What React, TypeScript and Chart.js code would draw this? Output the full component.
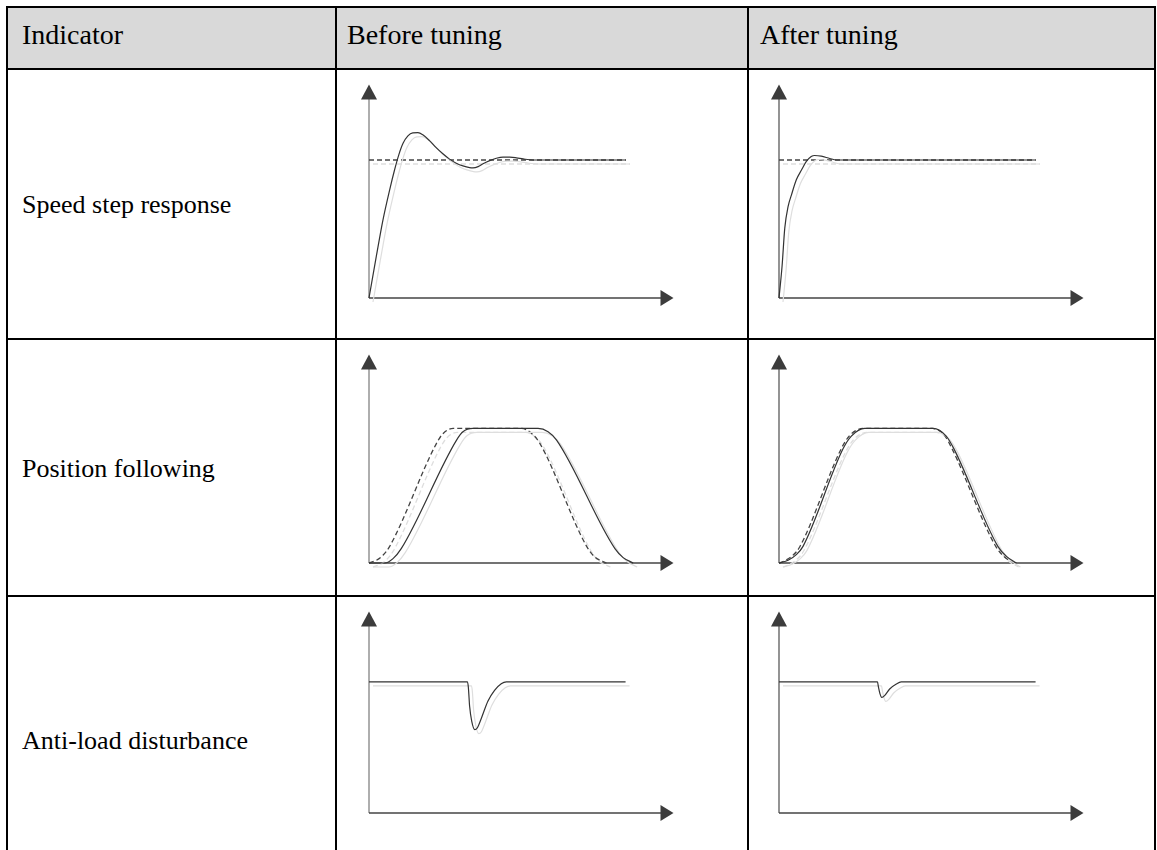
import React, { useEffect, useRef } from 'react';
import { Chart, registerables } from 'chart.js';

Chart.register(...registerables);

// ---------- text ----------
const columnHeaders = ['Indicator', 'Before tuning', 'After tuning'];
const rowLabels = ['Speed step response', 'Position following', 'Anti-load disturbance'];

// ---------- data (x: time, y: response; axis range 0..100) ----------
// Speed step response – before tuning
const speedBeforeX = [0, 2.4, 4.6, 6.8, 8.4, 9.8, 11.2, 12.8, 14.4, 16.1, 17.7, 19.9, 22.1, 24.3, 26.5, 28.7, 30.9, 33.1, 34.2, 35.9, 37.5, 39.7, 41.9, 44.1, 46.3, 48.5, 50.7, 54.0, 84.5];
const speedBeforeY = [0, 19.5, 36.7, 50.8, 60.1, 67.2, 72.6, 76.1, 77.5, 77.6, 76.6, 73.9, 70.6, 67.7, 65.2, 63.3, 62.0, 61.2, 61.1, 61.7, 63.0, 64.5, 65.6, 66.1, 66.1, 65.8, 65.3, 64.8, 64.8];
// Speed step response – after tuning
const speedAfterX = [0, 1.0, 1.9, 3.0, 4.1, 5.7, 7.4, 9.0, 10.6, 11.7, 13.9, 16.7, 18.9, 84.4];
const speedAfterY = [0, 14.8, 32.8, 43.0, 48.4, 55.5, 60.1, 64.1, 66.4, 66.9, 66.6, 65.5, 64.8, 64.8];
// Speed reference (dashed)
const speedRefX = [0, 84.5];
const speedRefY = [64.8, 64.8];

// Position following – before tuning
const posCmdBeforeX = [0, 2.4, 4.6, 6.8, 22.2, 24.4, 27.7, 50.2, 53.5, 56.2, 71.6, 74.3, 78.1];
const posCmdBeforeY = [0, 1.3, 3.7, 8.0, 57.5, 62.3, 64.7, 64.7, 62.3, 57.5, 8.0, 2.9, 0];
const posActBeforeX = [0, 5.2, 7.9, 10.6, 28.8, 30.9, 34.2, 55.6, 58.9, 61.7, 80.9, 83.6, 86.9];
const posActBeforeY = [0, 0, 2.1, 6.9, 59.1, 63.1, 64.7, 64.7, 63.1, 59.1, 6.9, 2.6, 0];
// Position following – after tuning
const posCmdAfterX = [0, 1.9, 4.6, 6.8, 20.5, 23.2, 27.6, 50.5, 54.5, 56.9, 71.3, 74.2, 77.5];
const posCmdAfterY = [0, 1.1, 3.7, 7.7, 55.0, 61.2, 64.7, 64.7, 61.2, 55.0, 8.0, 2.9, 0];
const posActAfterX = [0, 3.0, 5.7, 7.9, 21.1, 23.8, 28.2, 50.7, 55.0, 57.5, 72.0, 74.8, 78.1];
const posActAfterY = [0, 1.3, 4.0, 8.0, 55.0, 61.0, 64.7, 64.7, 61.0, 55.0, 8.0, 3.2, 0];

// Anti-load disturbance
const loadBeforeX = [0, 32.4, 32.7, 33.1, 33.8, 34.8, 35.6, 37.0, 39.1, 41.3, 43.5, 45.2, 84.4];
const loadBeforeY = [65.2, 65.2, 62.2, 53.1, 45.6, 41.5, 42.3, 47.3, 55.6, 61.0, 64.3, 65.2, 65.2];
const loadAfterX = [0, 32.4, 32.7, 33.2, 33.8, 34.8, 36.4, 38.6, 40.2, 84.4];
const loadAfterY = [65.2, 65.2, 62.7, 59.4, 57.5, 58.5, 61.7, 64.2, 65.2, 65.2];

// ---------- layout / style ----------
const FONT = "'Liberation Serif', 'Times New Roman', serif";
const PAD = { left: 12, top: 2, right: 8, bottom: 12 };
const SOLID = '#333333';
const DASHED = '#444444';

type Geom = { ox: number; ty: number; tx: number; ay: number };

const pts = (xs: number[], ys: number[]) => xs.map((x, i) => ({ x, y: ys[i] }));

const arrowAxes = {
  id: 'arrowAxes',
  beforeDatasetsDraw(chart: any, _args: any, opts: any) {
    const { ctx, chartArea: a } = chart;
    ctx.save();
    ctx.lineCap = 'butt';
    ctx.strokeStyle = opts.yColor || '#999999';
    ctx.lineWidth = opts.yWidth || 1.5;
    ctx.beginPath();
    ctx.moveTo(a.left, a.bottom);
    ctx.lineTo(a.left, a.top + 12);
    ctx.stroke();
    ctx.strokeStyle = '#444444';
    ctx.lineWidth = 1.3;
    ctx.beginPath();
    ctx.moveTo(a.left, a.bottom);
    ctx.lineTo(a.right - 10, a.bottom);
    ctx.stroke();
    ctx.fillStyle = '#3c3c3c';
    ctx.beginPath();
    ctx.moveTo(a.left, a.top - 0.5);
    ctx.lineTo(a.left - 8, a.top + 14.5);
    ctx.lineTo(a.left + 8, a.top + 14.5);
    ctx.closePath();
    ctx.fill();
    ctx.beginPath();
    ctx.moveTo(a.right + 0.5, a.bottom);
    ctx.lineTo(a.right - 12.5, a.bottom - 8);
    ctx.lineTo(a.right - 12.5, a.bottom + 8);
    ctx.closePath();
    ctx.fill();
    ctx.restore();
    // light offset copy (shadow) of every trace
    ctx.save();
    ctx.shadowColor = '#dedede';
    ctx.shadowOffsetX = 4;
    ctx.shadowOffsetY = 4;
    ctx.shadowBlur = 0;
  },
  afterDatasetsDraw(chart: any) {
    chart.ctx.restore();
  },
};

type Trace = { xs: number[]; ys: number[]; dashed?: boolean };

function MiniChart({ geom, traces, yColor, yWidth }: { geom: Geom; traces: Trace[]; yColor: string; yWidth: number }) {
  const ref = useRef<HTMLCanvasElement>(null);
  const w = geom.tx - geom.ox + PAD.left + PAD.right;
  const h = geom.ay - geom.ty + PAD.top + PAD.bottom;
  useEffect(() => {
    if (!ref.current) return;
    const chart = new Chart(ref.current, {
      type: 'line',
      data: {
        datasets: traces.map((t) => ({
          data: pts(t.xs, t.ys),
          borderColor: t.dashed ? DASHED : SOLID,
          borderWidth: t.dashed ? 1.3 : 1.2,
          borderDash: t.dashed ? [5, 3] : [],
          pointRadius: 0,
          fill: false,
          cubicInterpolationMode: 'monotone' as const,
          clip: false as any,
        })),
      },
      options: {
        animation: false,
        responsive: false,
        devicePixelRatio: 1,
        parsing: false as any,
        layout: { padding: PAD },
        events: [],
        scales: {
          x: { type: 'linear', min: 0, max: 100, display: false },
          y: { type: 'linear', min: 0, max: 100, display: false },
        },
        plugins: {
          legend: { display: false },
          tooltip: { enabled: false },
          arrowAxes: { yColor, yWidth },
        } as any,
      },
      plugins: [arrowAxes],
    });
    return () => chart.destroy();
  }, []);
  return (
    <div style={{ position: 'absolute', left: geom.ox - PAD.left, top: geom.ty - PAD.top, width: w, height: h }}>
      <canvas ref={ref} width={w} height={h} style={{ width: w, height: h, display: 'block' }} />
    </div>
  );
}

const hLines = [6, 68, 338, 595];
const vLines = [6, 335, 747, 1154];
const headerLeft = [22, 347, 760];
const headerBaseline = 44.3;
const rowBaselines = [214, 477.5, 750];

const geoms: Geom[][] = [
  [{ ox: 369, ty: 85, tx: 673, ay: 298 }, { ox: 779, ty: 85, tx: 1083, ay: 298 }],
  [{ ox: 369, ty: 355, tx: 673, ay: 563 }, { ox: 779, ty: 355, tx: 1083, ay: 563 }],
  [{ ox: 369, ty: 612, tx: 673, ay: 813 }, { ox: 779, ty: 612, tx: 1083, ay: 813 }],
];

const traces: Trace[][][] = [
  [
    [{ xs: speedBeforeX, ys: speedBeforeY }, { xs: speedRefX, ys: speedRefY, dashed: true }],
    [{ xs: speedAfterX, ys: speedAfterY }, { xs: speedRefX, ys: speedRefY, dashed: true }],
  ],
  [
    [{ xs: posActBeforeX, ys: posActBeforeY }, { xs: posCmdBeforeX, ys: posCmdBeforeY, dashed: true }],
    [{ xs: posActAfterX, ys: posActAfterY }, { xs: posCmdAfterX, ys: posCmdAfterY, dashed: true }],
  ],
  [
    [{ xs: loadBeforeX, ys: loadBeforeY }],
    [{ xs: loadAfterX, ys: loadAfterY }],
  ],
];

function Label({ text, left, baseline, size }: { text: string; left: number; baseline: number; size: number }) {
  const lh = size + 4;
  const off = (lh - 1.107 * size) / 2 + 0.891 * size;
  return (
    <div style={{ position: 'absolute', left, top: baseline - off, fontFamily: FONT, fontSize: size, lineHeight: `${lh}px`, color: '#000', whiteSpace: 'nowrap' }}>
      {text}
    </div>
  );
}

export default function App() {
  return (
    <div style={{ position: 'absolute', left: 0, top: 0, width: 1157, height: 850, overflow: 'hidden', background: '#fff' }}>
      <div style={{ position: 'absolute', left: vLines[0], top: hLines[0], width: vLines[3] - vLines[0], height: hLines[1] - hLines[0], background: '#d9d9d9' }} />
      {hLines.map((y, i) => (
        <div key={'h' + i} style={{ position: 'absolute', left: vLines[0], top: y, width: vLines[3] - vLines[0] + 2, height: 2, background: '#000' }} />
      ))}
      {vLines.map((x, i) => (
        <div key={'v' + i} style={{ position: 'absolute', left: x, top: hLines[0], width: 2, height: 850 - hLines[0], background: '#000' }} />
      ))}
      {columnHeaders.map((t, i) => (
        <Label key={t} text={t} left={headerLeft[i]} baseline={headerBaseline} size={28} />
      ))}
      {rowLabels.map((t, i) => (
        <Label key={t} text={t} left={22} baseline={rowBaselines[i]} size={26} />
      ))}
      {geoms.map((row, r) =>
        row.map((g, c) => (
          <MiniChart
            key={r + '-' + c}
            geom={g}
            traces={traces[r][c]}
            yColor={c === 0 ? '#9a9a9a' : '#5a5a5a'}
            yWidth={c === 0 ? 1.6 : 1.3}
          />
        ))
      )}
    </div>
  );
}
